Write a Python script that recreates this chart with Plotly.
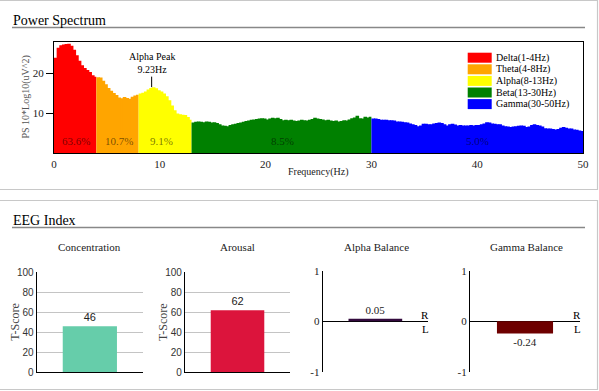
import plotly.graph_objects as go

W, H = 599, 391
SERIF = "Liberation Serif"
SANS = "Liberation Sans"

# ---------------- data ----------------
band_names = ["Delta(1-4Hz)", "Theta(4-8Hz)", "Alpha(8-13Hz)", "Beta(13-30Hz)", "Gamma(30-50Hz)"]
band_colors = ["#FF0000", "#FFA500", "#FFFF00", "#008000", "#0000FF"]
band_starts = [0, 4, 8, 13, 30]
band_percent = ["63.6%", "10.7%", "9.1%", "8.5%", "5.0%"]
band_label_freq = [2.1, 6.1, 10.2, 21.6, 40.0]
freq_step = 0.25

delta_ps = [24.0, 26.5, 27.1, 27.3, 27.4, 27.5, 27.0, 26.0, 24.6, 23.2, 22.1, 21.4,
            20.9, 20.4, 19.6, 19.2]
theta_ps = [19.1, 19.0, 18.2, 17.3, 16.4, 15.7, 15.1, 14.6, 14.0, 13.8, 14.1, 13.9,
            13.7, 14.2, 14.5, 14.7]
alpha_ps = [15.0, 15.2, 15.5, 16.0, 16.4, 16.6, 16.3, 15.8, 15.5, 15.0, 14.3, 13.3,
            12.0, 10.8, 10.0, 9.8, 9.7, 9.6, 9.1, 8.4]
beta_ps = [7.7, 7.9, 8.0, 7.9, 7.8, 8.0, 7.9, 7.7, 7.8, 7.6, 7.3, 7.0,
           6.9, 6.8, 7.1, 7.3, 7.4, 7.6, 7.7, 7.9, 8.1, 8.2, 8.4, 8.5,
           8.6, 8.7, 8.8, 8.7, 8.5, 8.7, 8.9, 8.8, 8.9, 8.6, 8.3, 8.4,
           8.3, 8.4, 8.2, 8.1, 8.2, 8.4, 8.3, 8.2, 8.4, 8.6, 8.9, 8.7,
           8.6, 8.5, 8.3, 8.4, 8.2, 8.1, 8.2, 8.0, 8.1, 8.3, 8.2, 8.5,
           8.8, 9.0, 9.4, 8.8, 8.7, 9.2, 9.0, 9.2]
gamma_ps = [8.7, 8.7, 8.6, 8.4, 8.4, 8.4, 8.3, 8.3, 8.2, 8.0, 8.0, 7.9,
            7.8, 7.7, 7.5, 7.3, 7.1, 6.8, 7.0, 7.4, 7.4, 7.3, 7.3, 7.5,
            7.6, 7.7, 7.6, 7.3, 7.0, 7.3, 7.4, 7.2, 7.0, 7.1, 7.0, 7.0,
            7.0, 7.1, 7.0, 7.1, 7.1, 7.3, 7.5, 7.8, 7.7, 7.5, 7.4, 7.3,
            7.3, 7.0, 6.8, 6.7, 6.6, 6.7, 6.8, 6.9, 7.0, 6.9, 6.6, 6.7,
            7.1, 7.3, 7.1, 7.0, 6.7, 6.3, 6.2, 6.2, 6.1, 6.0, 6.1, 6.4,
            6.6, 6.4, 6.2, 6.2, 6.0, 5.9, 5.7, 5.6]
band_values = [delta_ps, theta_ps, alpha_ps, beta_ps, gamma_ps]

alpha_peak_hz = 9.23
alpha_peak_ps = 16.6
spectrum_xticks = [0, 10, 20, 30, 40, 50]
spectrum_yticks = [10, 20]

index_names = ["Concentration", "Arousal"]
index_values = [46, 62]
index_colors = ["#66CDAA", "#DC143C"]
index_ticks = [0, 20, 40, 60, 80, 100]

balance_names = ["Alpha Balance", "Gamma Balance"]
balance_values = [0.05, -0.24]
balance_colors = ["#330A3D", "#6E0000"]
balance_ticks = [-1, 0, 1]


def px(x):
    return x / W


def py(y):
    return 1 - y / H


def note(x, y, text, size, color="black", family=SERIF, xanchor="center", yanchor="middle", **kw):
    d = dict(x=px(x), y=py(y), xref="paper", yref="paper", text=text, showarrow=False,
             xanchor=xanchor, yanchor=yanchor, font=dict(family=family, size=size, color=color))
    d.update(kw)
    return d


fig = go.Figure()

# ---------------- spectrum ----------------
for name, color, start, vals in zip(band_names, band_colors, band_starts, band_values):
    xs = [start + freq_step * (i + 0.5) for i in range(len(vals))]
    widths = [freq_step * 1.35] * (len(vals) - 1) + [freq_step]
    fig.add_trace(go.Bar(x=xs, y=vals, width=widths, offset=[-freq_step / 2] * len(vals),
                         marker=dict(color=color, line=dict(width=0)),
                         name=name, xaxis="x", yaxis="y", showlegend=False))

annotations = []
shapes = []

for lbl, fx in zip(band_percent, band_label_freq):
    annotations.append(dict(x=fx, y=3.0, xref="x", yref="y", text=lbl, showarrow=False,
                            xanchor="center", yanchor="middle",
                            font=dict(family=SERIF, size=11, color="rgba(0,0,0,0.55)")))

annotations.append(dict(x=alpha_peak_hz, y=alpha_peak_ps, xref="x", yref="y",
                        text="Alpha Peak<br>9.23Hz", showarrow=True, arrowhead=0, arrowwidth=1,
                        arrowcolor="black", ax=0, ay=-24, font=dict(family=SERIF, size=10, color="black")))

# legend (manual)
for i, (name, color) in enumerate(zip(band_names, band_colors)):
    top = 52.7 + i * 11.6
    shapes.append(dict(type="rect", xref="paper", yref="paper", x0=px(467.7), x1=px(491.7),
                       y0=py(top + 10), y1=py(top), fillcolor=color, line=dict(width=0)))
    annotations.append(note(494, top + 5, name, 10, xanchor="left"))

# axis titles
annotations.append(note(25, 97.5, "PS 10*Log10(uV^2)", 10, "#555", textangle=-90))
annotations.append(note(318.5, 172, "Frequency(Hz)", 10, "#222"))

# ---------------- indices ----------------
idx_x = [(36.7, 143), (185, 290)]
for k, (name, val, col) in enumerate(zip(index_names, index_values, index_colors)):
    ax = str(k + 2)
    fig.add_trace(go.Bar(x=[name], y=[val], width=0.51, marker=dict(color=col, line=dict(width=0)),
                         text=[str(val)], textposition="outside", cliponaxis=False,
                         textfont=dict(family=SANS, size=11, color="#222"),
                         xaxis="x" + ax, yaxis="y" + ax, showlegend=False))
    x0, x1 = idx_x[k]
    annotations.append(note((x0 + x1) / 2, 247, name, 11, "#222"))
    annotations.append(note(x0 - 22, 322, "T-Score", 12, "#444", textangle=-90))

# ---------------- balances ----------------
bal_x = [(322.7, 428), (470, 580)]
for k, (name, val, col) in enumerate(zip(balance_names, balance_values, balance_colors)):
    ax = str(k + 4)
    fig.add_trace(go.Bar(x=[name], y=[val], width=0.51, marker=dict(color=col, line=dict(width=0)),
                         text=["%g" % val], textposition="outside", cliponaxis=False,
                         textfont=dict(family=SERIF, size=11, color="#222"),
                         xaxis="x" + ax, yaxis="y" + ax, showlegend=False))
    x0, x1 = bal_x[k]
    annotations.append(note((x0 + x1) / 2 + 1, 247, name, 11, "#222"))
    annotations.append(note(x1 - 3, 315, "R", 11))
    annotations.append(note(x1 - 3, 329, "L", 11))

# ---------------- section titles & frames ----------------
for title, ty, uy in [("Power Spectrum", 20.5, 27.5), ("EEG Index", 220.5, 227.5)]:
    annotations.append(note(11, ty, title, 14, xanchor="left"))
    shapes.append(dict(type="line", xref="paper", yref="paper", x0=px(12), x1=px(585),
                       y0=py(uy), y1=py(uy), line=dict(color="#888", width=1.5)))
for y0, y1 in [(0.5, 189.5), (200.5, 389.5)]:
    shapes.append(dict(type="rect", xref="paper", yref="paper", x0=px(-2), x1=px(597.5),
                       y0=py(y1), y1=py(y0), line=dict(color="#C8C8C8", width=1.2), layer="below"))

tickfont_serif = dict(family=SERIF, size=11, color="#222")
tickfont_sans = dict(family=SANS, size=10, color="#333")

layout = dict(
    width=W, height=H, margin=dict(l=0, r=0, t=0, b=0, autoexpand=False),
    paper_bgcolor="white", plot_bgcolor="white",
    barmode="overlay", hovermode=False, showlegend=False,
    annotations=annotations, shapes=shapes,
    xaxis=dict(domain=[px(54), px(583)], range=[0, 50], tickvals=spectrum_xticks, ticks="",
               showline=True, mirror=True, linecolor="black", linewidth=1, showgrid=False,
               zeroline=False, tickfont=tickfont_serif, anchor="y", automargin=False),
    yaxis=dict(domain=[py(153.3), py(41.7)], range=[0, 28], tickvals=spectrum_yticks, ticks="outside",
               ticklen=7, tickcolor="black", showline=True, mirror=True, linecolor="black",
               linewidth=1, showgrid=False, zeroline=False, tickfont=tickfont_serif, anchor="x",
               automargin=False),
)
for k in range(2):
    ax = str(k + 2)
    x0, x1 = idx_x[k]
    layout["xaxis" + ax] = dict(domain=[px(x0), px(x1)], range=[-0.5, 0.5], showticklabels=False,
                                ticks="", showline=True, linecolor="black", linewidth=1.2,
                                showgrid=False, zeroline=False, anchor="y" + ax, automargin=False)
    layout["yaxis" + ax] = dict(domain=[py(372), py(272.3)], range=[0, 100], tickvals=index_ticks,
                                ticks="", showline=True, linecolor="black", linewidth=1.2,
                                showgrid=True, gridcolor="#C4C4C4", gridwidth=1, zeroline=False,
                                tickfont=tickfont_sans, anchor="x" + ax, automargin=False)
for k in range(2):
    ax = str(k + 4)
    x0, x1 = bal_x[k]
    layout["xaxis" + ax] = dict(domain=[px(x0), px(x1)], range=[-0.5, 0.5], showticklabels=False,
                                ticks="", showline=False, showgrid=False, zeroline=False,
                                anchor="y" + ax, automargin=False)
    layout["yaxis" + ax] = dict(domain=[py(371.7), py(271)], range=[-1, 1], tickvals=balance_ticks,
                                ticktext=["-1", "0", "1"], ticks="", showline=True, linecolor="black",
                                linewidth=1.2, showgrid=False, zeroline=True, zerolinecolor="black",
                                zerolinewidth=1.2, tickfont=tickfont_serif, anchor="x" + ax,
                                automargin=False)

fig.update_layout(**layout)
fig.write_html("out.html", config={"displayModeBar": False},
               post_script="document.body.style.margin='0';document.body.style.overflow='hidden';")
